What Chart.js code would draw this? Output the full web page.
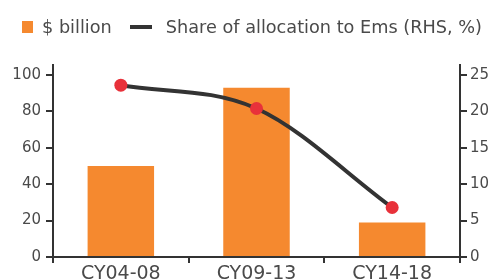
<!DOCTYPE html>
<html lang="en">
<head>
    <meta charset="UTF-8">
    <title>Allocation to EMs</title>
    <script src="https://cdn.jsdelivr.net/npm/chart.js"></script>
    <style>
        html, body {
            margin: 0;
            padding: 0;
            background: #ffffff;
        }

        .wrap {
            width: 496px;
            height: 280px;
            position: relative;
            overflow: hidden;
        }

        .legend {
            position: absolute;
            top: 17px;
            left: 22px;
            display: flex;
            align-items: center;
            font-family: 'DejaVu Sans', sans-serif;
            font-size: 17.7px;
            color: #4a4a4a;
            white-space: nowrap;
        }

        .legend .box {
            width: 11px;
            height: 12px;
            background: #f5892f;
            margin-right: 9px;
        }

        .legend .dash {
            width: 22px;
            height: 4px;
            background: #333333;
            margin-left: 18px;
            margin-right: 14px;
        }
    </style>
</head>
<body>

    <div class="wrap">
        <div class="legend">
            <span class="box"></span><span>$ billion</span>
            <span class="dash"></span><span>Share of allocation to Ems (RHS, %)</span>
        </div>
        <canvas id="emChart" width="496" height="280"></canvas>
    </div>

    <script>
        const periods = ['CY04-08', 'CY09-13', 'CY14-18'];
        const billions = [50, 93, 19];
        const emShare = [23.6, 20.4, 6.8];
        const leftTicks = [0, 20, 40, 60, 80, 100];
        const rightTicks = [0, 5, 10, 15, 20, 25];

        const textColor = '#4a4a4a';
        const axisColor = '#333333';
        const fontFamily = "'DejaVu Sans', sans-serif";

        function keepTicks(list) {
            return function (axis) {
                axis.ticks = list.map(v => ({ value: v }));
            };
        }

        const ctx = document.getElementById('emChart').getContext('2d');

        new Chart(ctx, {
            data: {
                labels: periods,
                datasets: [
                    {
                        type: 'line',
                        label: 'Share of allocation to Ems (RHS, %)',
                        data: emShare,
                        yAxisID: 'right',
                        borderColor: '#333333',
                        borderWidth: 4,
                        cubicInterpolationMode: 'monotone',
                        pointRadius: 6.5,
                        pointHoverRadius: 6.5,
                        pointBackgroundColor: '#e8313a',
                        pointBorderWidth: 0,
                        order: 0
                    },
                    {
                        type: 'bar',
                        label: '$ billion',
                        data: billions,
                        yAxisID: 'left',
                        backgroundColor: '#f5892f',
                        barPercentage: 0.49,
                        categoryPercentage: 1,
                        order: 1
                    }
                ]
            },
            options: {
                responsive: false,
                animation: false,
                layout: {
                    padding: { top: 65, right: 0, bottom: 0, left: 0 }
                },
                plugins: {
                    tooltip: { enabled: false },
                    legend: { display: false }
                },
                scales: {
                    x: {
                        offset: true,
                        grid: {
                            offset: true,
                            drawOnChartArea: false,
                            drawTicks: true,
                            tickLength: 6,
                            color: axisColor,
                            lineWidth: 2
                        },
                        border: { color: axisColor, width: 2 },
                        ticks: {
                            color: textColor,
                            font: { family: fontFamily, size: 19 },
                            padding: 0,
                            maxRotation: 0
                        },
                        afterFit: function (scale) { scale.height = 23; }
                    },
                    left: {
                        position: 'left',
                        min: 0,
                        max: 105.5,
                        afterBuildTicks: keepTicks(leftTicks),
                        grid: {
                            drawOnChartArea: false,
                            tickLength: 7,
                            color: axisColor,
                            lineWidth: 2
                        },
                        border: { color: axisColor, width: 2 },
                        ticks: {
                            color: textColor,
                            font: { family: fontFamily, size: 15 },
                            padding: 5
                        },
                        afterFit: function (scale) { scale.width = 53; }
                    },
                    right: {
                        position: 'right',
                        min: 0,
                        max: 26.375,
                        afterBuildTicks: keepTicks(rightTicks),
                        grid: {
                            drawOnChartArea: false,
                            tickLength: 7,
                            color: axisColor,
                            lineWidth: 2
                        },
                        border: { color: axisColor, width: 2 },
                        ticks: {
                            color: textColor,
                            font: { family: fontFamily, size: 15 },
                            padding: 3
                        },
                        afterFit: function (scale) { scale.width = 36; }
                    }
                }
            }
        });
    </script>

</body>
</html>
